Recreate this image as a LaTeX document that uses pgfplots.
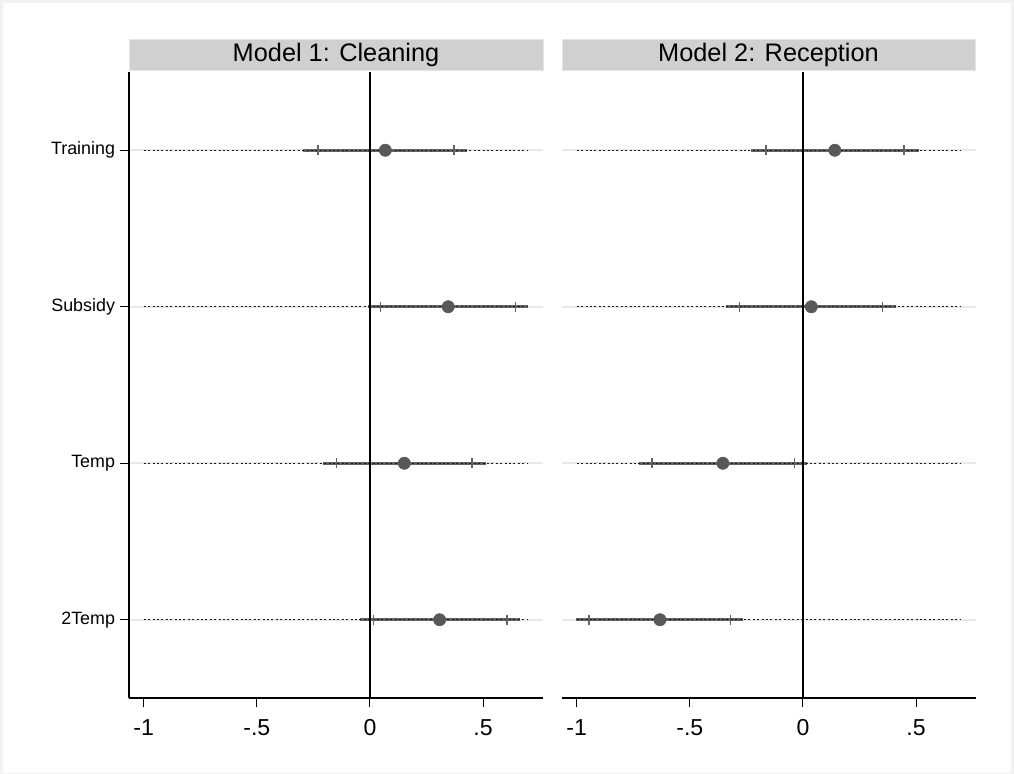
\documentclass[border=0pt]{standalone}
\usepackage{fontspec}
\setmainfont{Liberation Sans}
\usepackage{pgfplots}
\usepackage{pgfplotstable}
\pgfplotsset{compat=1.18}

\definecolor{framec}{RGB}{242,242,242}
\definecolor{stripc}{RGB}{208,208,208}
\definecolor{stripline}{RGB}{222,232,240}
\definecolor{cibar}{RGB}{98,98,98}
\definecolor{ptcol}{RGB}{88,88,88}
\definecolor{gridc}{RGB}{232,232,232}

% Model 1: Cleaning   (y: 4=Training, 3=Subsidy, 2=Temp, 1=2Temp)
\pgfplotstableread{
y b lo95 hi95 lo90 hi90
4 0.068 -0.296 0.427 -0.229 0.371
3 0.346 -0.007 0.699 0.047 0.643
2 0.152 -0.206 0.511 -0.147 0.451
1 0.308 -0.044 0.662 0.015 0.606
}\cleaning

% Model 2: Reception
\pgfplotstableread{
y b lo95 hi95 lo90 hi90
4 0.141 -0.230 0.514 -0.164 0.447
3 0.037 -0.338 0.410 -0.279 0.351
2 -0.354 -0.726 0.018 -0.667 -0.037
1 -0.632 -1.004 -0.264 -0.945 -0.320
}\reception

\pgfplotsset{
  coefpanel/.style={
    scale only axis, width=310.5pt, height=469.5pt,
    xmin=-1.065, xmax=0.765, ymin=0.5, ymax=4.5,
    axis x line*=bottom, axis y line*=left,
    axis line style={black, line width=1.1pt, -},
    xtick={-1,-0.5,0,0.5}, xticklabels={-1,-.5,0,.5},
    ytick={1,2,3,4},
    tick align=outside, major tick length=7pt,
    tick style={black, line width=0.8pt},
    ymajorgrids, major grid style={gridc, line width=1.5pt},
    xticklabel style={font=\fontsize{17.3}{20}\selectfont, yshift=-5.5pt},
    yticklabel style={font=\fontsize{13.4}{16}\selectfont},
  },
  cibarstyle/.style={only marks, mark=none,
    error bars/.cd, x dir=both, x explicit, error mark=none,
    error bar style={cibar, line width=2.4pt}},
  tickstyle/.style={only marks, mark=|, mark size=3.9pt, cibar, mark options={line width=1pt}},
  dotstyle/.style={black!90, line width=0.9pt, dash pattern=on 1.5pt off 1.8pt, unbounded coords=jump},
  zerostyle/.style={black, line width=1.5pt},
  ptstyle/.style={only marks, mark=*, mark size=4.6pt, mark options={draw=ptcol, fill=ptcol}},
}

\begin{document}
\begin{tikzpicture}
\fill[framec] (0,0) rectangle (760.5pt,-580.5pt);
\fill[white] (2.25pt,-2.25pt) rectangle (758.25pt,-579.75pt);

% Left panel
\begin{axis}[coefpanel, at={(96.75pt,-523.5pt)}, anchor=south west,
  yticklabels={2Temp,Temp,Subsidy,Training}]
\addplot[cibarstyle] table[x=b, y=y, x error plus expr=\thisrow{hi95}-\thisrow{b}, x error minus expr=\thisrow{b}-\thisrow{lo95}] {\cleaning};
\addplot[tickstyle] table[x=lo90, y=y] {\cleaning};
\addplot[tickstyle] table[x=hi90, y=y] {\cleaning};
\addplot[dotstyle] coordinates {(-1,4) (0.7,4) (nan,nan) (-1,3) (0.7,3) (nan,nan) (-1,2) (0.7,2) (nan,nan) (-1,1) (0.7,1)};
\addplot[zerostyle] coordinates {(0,0.5) (0,4.5)};
\addplot[ptstyle] table[x=b, y=y] {\cleaning};
\end{axis}

% Right panel
\begin{axis}[coefpanel, at={(421.5pt,-523.5pt)}, anchor=south west,
  yticklabels={}, y axis line style={draw=none}, ytick style={draw=none}]
\addplot[cibarstyle] table[x=b, y=y, x error plus expr=\thisrow{hi95}-\thisrow{b}, x error minus expr=\thisrow{b}-\thisrow{lo95}] {\reception};
\addplot[tickstyle] table[x=lo90, y=y] {\reception};
\addplot[tickstyle] table[x=hi90, y=y] {\reception};
\addplot[dotstyle] coordinates {(-1,4) (0.7,4) (nan,nan) (-1,3) (0.7,3) (nan,nan) (-1,2) (0.7,2) (nan,nan) (-1,1) (0.7,1)};
\addplot[zerostyle] coordinates {(0,0.5) (0,4.5)};
\addplot[ptstyle] table[x=b, y=y] {\reception};
\end{axis}

% Panel title strips
\node[fill=stripc, draw=stripline, line width=0.75pt, minimum width=310.5pt, minimum height=23.6pt,
  inner sep=0pt, outer sep=0pt, anchor=south west, font=\fontsize{19}{22}\selectfont]
  at (96.75pt,-53.25pt) {Model 1: Cleaning};
\node[fill=stripc, draw=stripline, line width=0.75pt, minimum width=309.75pt, minimum height=23.6pt,
  inner sep=0pt, outer sep=0pt, anchor=south west, font=\fontsize{19}{22}\selectfont]
  at (421.5pt,-53.25pt) {Model 2: Reception};
\end{tikzpicture}
\end{document}
